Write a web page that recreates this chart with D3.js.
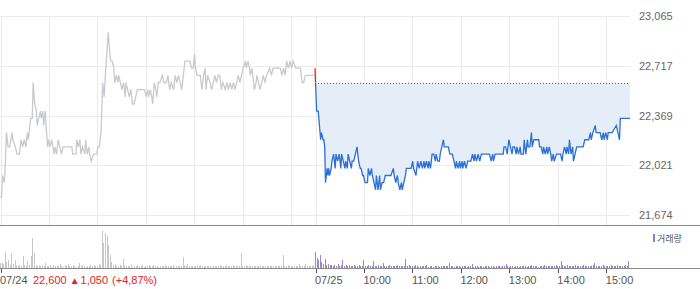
<!DOCTYPE html>
<html>
<head>
<meta charset="utf-8">
<script src="https://cdn.jsdelivr.net/npm/d3@7"></script>
<style>
  body { margin: 0; background: #fff; }
  svg { display: block; font-family: 'Liberation Sans', Arial, 'Noto Sans CJK KR', sans-serif; }
  .grid line { stroke: #ebebeb; shape-rendering: crispEdges; }
  .grid path { display: none; }
  .priceAxis text { fill: #666; font-size: 11px; }
  .priceAxis path, .priceAxis line { display: none; }
  .timeAxis text { fill: #555; font-size: 11px; }
  .timeAxis path { display: none; }
  .timeAxis line { stroke: #555; shape-rendering: crispEdges; }
</style>
</head>
<body>
<div id="chart"></div>
<script>
'use strict';
// Price ticks on the right side
const priceTicks = [21674, 22021, 22369, 22717, 23065]
const prevClose = 22600
const dayLabels = ['07/24', '07/25']
const hourLabels = ['10:00', '11:00', '12:00', '13:00', '14:00', '15:00']
const summary = { price: '22,600', change: '1,050', rate: '(+4,87%)' }

// Day 1 (07/24) [minutes after 09:00, price]
const day1 = [
  [0,21800],[2,21800],[3,21950],[5,21900],[6,21950],[8,22250],[10,22150],[12,22150],[15,22250],[16,22200],
  [19,22150],[21,22100],[24,22100],[26,22200],[28,22150],[30,22200],[32,22150],[34,22250],[35,22200],[38,22350],
  [40,22350],[41,22600],[43,22450],[45,22400],[46,22300],[48,22350],[50,22400],[51,22350],[53,22400],[54,22300],
  [56,22400],[57,22300],[59,22150],[60,22200],[62,22150],[64,22200],[67,22100],[68,22150],[70,22100],[72,22200],
  [74,22150],[76,22100],[78,22150],[89,22150],[90,22100],[94,22100],[95,22200],[97,22150],[99,22200],[100,22100],
  [102,22150],[105,22100],[106,22200],[108,22100],[110,22150],[111,22100],[113,22050],[116,22100],[120,22100],[121,22150],
  [123,22150],[125,22250],[126,22400],[127,22600],[129,22500],[131,22700],[134,22950],[136,22800],[137,22750],[139,22750],
  [141,22700],[142,22600],[144,22650],[146,22600],[147,22650],[149,22600],[151,22550],[153,22600],[155,22500],[156,22600],
  [158,22550],[160,22500],[162,22550],[164,22450],[166,22450],[168,22500],[170,22550],[176,22550],[179,22550],[181,22500],
  [183,22550],[184,22500],[186,22550],[188,22500],[189,22450],[191,22600],[193,22550],[194,22500],[196,22600],[198,22600],
  [201,22650],[203,22600],[206,22600],[208,22650],[210,22550],[212,22600],[215,22550],[217,22650],[219,22600],[221,22650],
  [223,22600],[225,22550],[227,22650],[229,22750],[235,22750],[237,22700],[239,22700],[241,22800],[242,22700],[244,22650],
  [248,22650],[250,22550],[252,22650],[254,22700],[255,22550],[257,22650],[260,22600],[262,22550],[264,22600],[266,22650],
  [268,22600],[270,22650],[272,22650],[274,22550],[276,22600],[279,22550],[281,22600],[283,22550],[285,22600],[287,22550],
  [289,22600],[291,22550],[293,22600],[295,22650],[297,22600],[299,22650],[301,22700],[304,22750],[305,22700],[307,22750],
  [309,22700],[310,22650],[312,22700],[314,22600],[315,22550],[317,22600],[318,22650],[320,22600],[322,22550],[324,22600],
  [326,22650],[328,22600],[330,22650],[334,22700],[336,22650],[338,22700],[347,22700],[349,22650],[351,22700],[353,22650],
  [355,22750],[357,22700],[359,22750],[361,22700],[363,22750],[366,22700],[372,22700],[374,22600],[376,22600],[378,22650],
  [389,22650]
]

// Day 2 (07/25) [minutes after 09:00, price]
const day2 = [
  [0,22700],[2,22400],[4,22400],[7,22200],[8,22250],[10,22200],[11,22200],[12,22150],[13,21900],[15,22000],
  [16,21950],[17,22000],[18,21950],[20,22000],[21,22050],[23,22100],[25,22000],[26,22100],[28,22050],[30,22100],
  [32,22000],[33,22100],[35,22050],[37,22000],[38,22050],[40,22000],[41,22100],[43,22050],[45,22000],[46,22050],
  [48,22050],[50,22100],[52,22150],[54,22050],[56,22000],[57,22000],[59,21950],[60,21950],[62,21900],[65,21900],
  [66,22000],[68,21950],[70,22000],[71,21950],[73,21900],[75,21850],[76,21950],[78,21850],[80,21950],[81,21850],
  [83,21900],[85,21900],[87,21950],[89,21950],[94,21950],[97,22000],[98,21950],[100,21900],[102,21950],[103,21900],
  [105,21850],[107,21900],[108,21850],[110,21900],[112,21950],[113,22000],[115,22000],[117,22000],[119,22000],[121,22050],
  [122,22000],[125,21950],[127,22050],[129,22000],[131,22050],[133,22000],[135,22050],[136,22000],[138,22050],[140,22000],
  [141,22050],[143,22000],[145,22100],[147,22100],[149,22050],[150,22100],[152,22050],[154,22050],[155,22100],[157,22150],
  [159,22200],[160,22150],[165,22150],[167,22100],[170,22100],[172,22050],[174,22000],[175,22050],[177,22000],[179,22050],
  [180,22000],[182,22050],[183,22000],[185,22050],[187,22000],[189,22050],[193,22050],[195,22100],[197,22050],[198,22100],
  [200,22050],[202,22100],[204,22050],[206,22100],[216,22100],[218,22050],[220,22100],[221,22050],[223,22100],[233,22100],
  [234,22150],[236,22150],[238,22100],[240,22200],[242,22150],[244,22100],[245,22150],[247,22150],[249,22100],[250,22150],
  [252,22100],[254,22150],[255,22100],[258,22100],[259,22200],[261,22100],[263,22200],[264,22150],[266,22150],[268,22250],
  [269,22150],[271,22200],[277,22200],[278,22150],[280,22150],[282,22100],[283,22150],[285,22100],[287,22150],[288,22100],
  [290,22150],[292,22100],[293,22050],[295,22100],[296,22050],[299,22100],[304,22100],[306,22050],[307,22100],[309,22150],
  [311,22100],[312,22150],[314,22100],[315,22200],[317,22100],[319,22150],[320,22050],[322,22100],[324,22150],[332,22150],
  [334,22200],[339,22200],[341,22250],[342,22200],[344,22250],[347,22300],[348,22250],[353,22250],[355,22200],[357,22250],
  [358,22200],[360,22250],[362,22200],[363,22250],[368,22250],[373,22300],[375,22250],[377,22200],[378,22350],[390,22350]
]

// Volume per 2-minute bucket (relative units)
const vol1 = [
  5,5,4,16,6,8,3,15,4,8, 3,2,3,2,12,3,2,7,3,12, 30,15,3,2,3,2,3,2,5,2, 2,3,1,3,2,2,2,4,2,1,
  3,2,4,2,2,3,2,1,2,5, 2,3,2,1,2,2,3,2,3,2, 2,4,3,37,25,35,32,23,13,6, 3,4,2,2,3,2,9,3,2,2,
  2,3,1,2,2,3,2,2,3,1, 2,2,3,2,2,3,2,2,1,2, 2,2,3,2,2,2,2,3,1,2, 2,2,2,11,3,2,4,2,2,2,
  2,2,3,2,3,2,2,2,2,2, 2,1,2,2,2,2,3,2,2,2, 3,2,2,2,3,2,2,2,2,15, 2,2,3,2,2,2,2,2,2,2,
  2,3,2,2,2,2,2,2,2,2, 2,2,2,2,2,13,2,2,3,2, 2,2,2,2,2,4,2,2,2,4, 2,2,2,2,3
]
const vol2 = [
  16,10,8,13,6,4,9,3,4,3, 3,2,3,2,4,2,3,8,2,3, 2,3,2,2,3,2,2,3,2,2, 8,2,2,3,2,2,7,2,2,3,
  2,2,5,2,2,2,3,2,2,2, 2,3,2,2,2,2,9,2,3,2, 2,2,3,2,1,2,2,2,2,3, 1,2,2,1,2,2,2,1,2,2,
  2,2,2,5,2,2,1,2,2,2, 1,2,2,2,1,2,2,4,1,2, 2,1,2,2,1,2,2,2,1,2, 2,1,2,2,2,1,2,2,4,2,
  1,2,2,1,2,2,1,2,2,2, 2,1,2,2,3,2,2,2,1,2, 2,2,3,2,2,2,2,2,2,3, 2,2,7,3,2,2,3,2,2,2,
  2,3,2,2,2,2,3,2,2,2, 2,2,3,5,2,2,2,2,3,2, 2,2,2,3,2,2,2,3,2,2, 2,2,3,2,7
]

const W = 700, H = 289
const plotRight = 630
const sessionLen = 390
const x = d3.scaleLinear().domain([0, sessionLen * 2]).range([0, plotRight])
const y = d3.scaleLinear().domain([priceTicks[0], priceTicks[4]]).range([215, 16])
const yVol = d3.scaleLinear().domain([0, 40]).range([268, 228])

const svg = d3.select('#chart').append('svg')
  .attr('width', W)
  .attr('height', H)

// Horizontal gridlines
svg.append('g')
  .attr('class', 'grid')
  .call(d3.axisLeft(y).tickValues(priceTicks).tickSize(-plotRight).tickFormat(''))

// Vertical gridlines at each hour of both sessions
const hourMinutes = d3.range(0, sessionLen * 2, 60).filter(m => m < sessionLen)
  .concat([sessionLen], d3.range(sessionLen + 60, sessionLen * 2, 60))
svg.append('g')
  .attr('class', 'grid')
  .attr('transform', 'translate(0.5,225)')
  .call(d3.axisTop(x).tickValues(hourMinutes).tickSize(209).tickFormat(''))

// Price labels
svg.append('g')
  .attr('class', 'priceAxis')
  .attr('transform', `translate(${plotRight},0)`)
  .call(d3.axisRight(y).tickValues(priceTicks).tickSize(0).tickPadding(9).tickFormat(d3.format(',')))

// Day 1 line
const line = d3.line().x(d => x(d[0])).y(d => y(d[1]))
svg.append('path').datum(day1)
  .attr('d', line)
  .attr('fill', 'none')
  .attr('stroke', '#c9cacf')
  .attr('stroke-width', 1.3)

// Day 2: shifted to the second session
const day2Shifted = day2.map(d => [d[0] + sessionLen, d[1]])
const yRef = y(prevClose)

const defs = svg.append('defs')
defs.append('clipPath').attr('id', 'clipUp')
  .append('rect').attr('x', 0).attr('y', 0).attr('width', W).attr('height', yRef)
defs.append('clipPath').attr('id', 'clipDown')
  .append('rect').attr('x', 0).attr('y', yRef).attr('width', W).attr('height', H - yRef)

const area = d3.area().x(d => x(d[0])).y0(yRef).y1(d => y(d[1]))
svg.append('path').datum(day2Shifted)
  .attr('d', area)
  .attr('fill', '#e5edf9')
  .attr('clip-path', 'url(#clipDown)')
svg.append('path').datum(day2Shifted)
  .attr('d', area)
  .attr('fill', '#fde9e9')
  .attr('clip-path', 'url(#clipUp)')

// Previous close dotted line
svg.append('line')
  .attr('x1', x(sessionLen))
  .attr('x2', x(sessionLen * 2))
  .attr('y1', Math.round(yRef) + 0.5)
  .attr('y2', Math.round(yRef) + 0.5)
  .attr('stroke', '#666')
  .attr('stroke-dasharray', '1,2')

svg.append('path').datum(day2Shifted)
  .attr('d', line)
  .attr('fill', 'none')
  .attr('stroke', '#2c6fd6')
  .attr('stroke-width', 1.3)
  .attr('clip-path', 'url(#clipDown)')
svg.append('path').datum(day2Shifted)
  .attr('d', line)
  .attr('fill', 'none')
  .attr('stroke', '#f21c1c')
  .attr('stroke-width', 1.3)
  .attr('clip-path', 'url(#clipUp)')

// Panel separators
svg.append('line')
  .attr('x1', 0).attr('x2', W).attr('y1', 225.5).attr('y2', 225.5)
  .attr('stroke', '#8a8a8a')

// Volume bars
svg.append('g').selectAll('rect')
  .data(vol1)
  .join('rect')
  .attr('x', (d, i) => Math.round(x(i * 2)))
  .attr('y', d => yVol(d))
  .attr('width', 1)
  .attr('height', d => yVol(0) - yVol(d))
  .attr('fill', '#c8c8c8')
svg.append('g').selectAll('rect')
  .data(vol2)
  .join('rect')
  .attr('x', (d, i) => Math.round(x(sessionLen + i * 2)))
  .attr('y', d => yVol(d))
  .attr('width', 1)
  .attr('height', d => yVol(0) - yVol(d))
  .attr('fill', '#9a87c9')

// Bottom time axis
const timeTicks = [0, sessionLen].concat(d3.range(sessionLen + 60, sessionLen * 2, 60))
const timeLabels = dayLabels.concat(hourLabels)
const timeAxis = svg.append('g')
  .attr('class', 'timeAxis')
  .attr('transform', 'translate(0.5,268)')
  .call(d3.axisBottom(x).tickValues(timeTicks).tickSize(5).tickFormat((d, i) => timeLabels[i]))
timeAxis.selectAll('text')
  .attr('text-anchor', 'start')
  .attr('x', -1)
  .attr('y', 8)
svg.append('line')
  .attr('x1', 0).attr('x2', W).attr('y1', 268.5).attr('y2', 268.5)
  .attr('stroke', '#8a8a8a')

// Summary of day 1 close
const info = svg.append('text')
  .attr('x', 33)
  .attr('y', 284)
  .attr('fill', '#e52222')
  .style('font-size', '11px')
info.append('tspan').text(summary.price)
info.append('tspan').attr('dx', 3).style('font-size', '10px').text('▲')
info.append('tspan').attr('dx', 1).text(summary.change)
info.append('tspan').attr('dx', 4).text(summary.rate)

// Volume legend
svg.append('rect')
  .attr('x', 653).attr('y', 234)
  .attr('width', 2).attr('height', 8)
  .attr('fill', '#8e7cc3')
svg.append('text')
  .attr('x', 657)
  .attr('y', 242)
  .attr('fill', '#555')
  .style('font-family', "'Noto Sans CJK KR', sans-serif")
  .style('font-size', '9px')
  .text('거래량')
</script>
</body>
</html>
